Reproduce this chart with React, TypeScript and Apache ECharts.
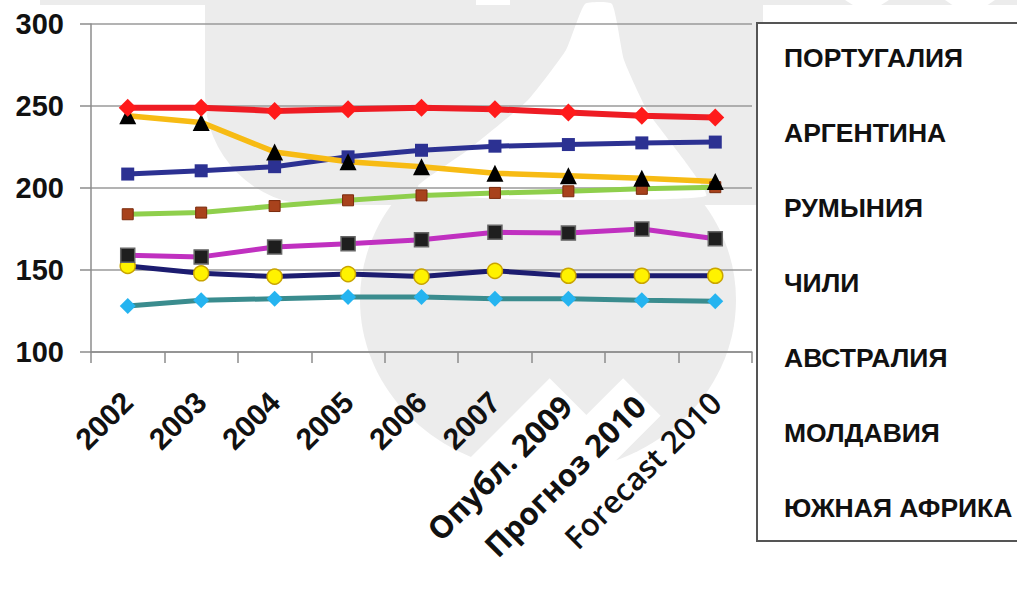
import React, { useEffect, useRef } from "react";
import * as echarts from "echarts";

const categories = ["2002", "2003", "2004", "2005", "2006", "2007", "Опубл. 2009", "Прогноз 2010", "Forecast 2010"];
const yTicks = [100, 150, 200, 250, 300];

const seriesNames = ["ПОРТУГАЛИЯ", "АРГЕНТИНА", "РУМЫНИЯ", "ЧИЛИ", "АВСТРАЛИЯ", "МОЛДАВИЯ", "ЮЖНАЯ АФРИКА"];
const portugal = [249, 249, 247, 248, 249, 248, 246, 244, 243];
const argentina = [244, 240, 222, 216, 213, 209, 207.5, 206, 204];
const romania = [208.5, 210.5, 213, 219, 223, 225.5, 226.5, 227.5, 228];
const chile = [184, 185, 189, 192.5, 195.5, 197, 198, 199.5, 200.5];
const australia = [159, 158, 164, 166, 168.5, 173, 172.5, 175, 169];
const moldova = [152.5, 148, 146, 147.5, 146, 149.5, 146.5, 146.5, 146.5];
const southAfrica = [128, 131.5, 132.5, 133.5, 133.5, 132.5, 132.5, 131.5, 131];

const GREY = "#ececec";

export default function App() {
  const ref = useRef<HTMLDivElement>(null);
  useEffect(() => {
    if (!ref.current) return;
    const chart = echarts.init(ref.current, undefined, { renderer: "svg" });
    const mk = (
      name: string,
      data: number[],
      color: string,
      width: number,
      symbol: string,
      size: number,
      fill: string,
      border: string,
      bw: number
    ) => ({
      name,
      type: "line",
      data,
      symbol,
      symbolSize: size,
      showSymbol: true,
      lineStyle: { color, width },
      itemStyle: { color: fill, borderColor: border, borderWidth: bw },
      z: 3,
    });
    const option: any = {
      animation: false,
      backgroundColor: "#fff",
      graphic: [
        { type: "rect", z: -10, silent: true, shape: { x: 40, y: 0, width: 977, height: 5 }, style: { fill: GREY } },
        { type: "rect", z: -9, silent: true, shape: { x: 476, y: 0, width: 34, height: 5 }, style: { fill: "#fff" } },
        { type: "rect", z: -10, silent: true, shape: { x: 205, y: 0, width: 558, height: 205, r: [0, 0, 0, 110] }, style: { fill: GREY } },
        { type: "ellipse", z: -10, silent: true, shape: { cx: 548, cy: 300, rx: 188, ry: 172 }, style: { fill: GREY } },
        {
          type: "polygon",
          z: -9,
          silent: true,
          shape: {
            points: [
              [585, 4], [612, 4], [624, 60], [648, 112], [684, 160], [706, 196],
              [560, 200], [440, 196], [418, 186], [468, 150], [528, 100], [566, 50],
            ],
            smooth: 0.15,
          },
          style: { fill: "#fff" },
        },
        { type: "polygon", z: -9, silent: true, shape: { points: [[845, 0], [889, 0], [867, 14]] }, style: { fill: "#fff" } },
        { type: "polygon", z: -9, silent: true, shape: { points: [[945, 0], [995, 0], [970, 17]] }, style: { fill: "#fff" } },
      ],
      grid: { left: 91, right: 265, top: 24, bottom: 241, containLabel: false },
      legend: {
        orient: "vertical",
        left: 757,
        top: 23,
        data: seriesNames,
        backgroundColor: "#fff",
        borderColor: "#555",
        borderWidth: 2,
        padding: [21, 30, 20, 21],
        itemWidth: 0,
        itemHeight: 0,
        itemGap: 48,
        icon: "rect",
        itemStyle: { opacity: 0 },
        lineStyle: { opacity: 0 },
        textStyle: {
          fontFamily: "Liberation Sans, Arial, sans-serif",
          fontWeight: "bold",
          fontSize: 26.5,
          color: "#111",
          lineHeight: 26,
        },
        selectedMode: false,
      },
      xAxis: {
        type: "category",
        data: categories,
        boundaryGap: true,
        axisLine: { lineStyle: { color: "#8c8c8c", width: 1.5 } },
        axisTick: { show: true, length: 11, lineStyle: { color: "#8c8c8c", width: 1.5 } },
        axisLabel: {
          rotate: 45,
          margin: 45,
          interval: 0,
          formatter: (v: string) =>
            /^\d{4}$/.test(v) ? `{y|${v}}` : v.startsWith("Forecast") ? `{en|${v}}` : `{ru|${v}}`,
          rich: {
            y: { fontFamily: "Liberation Sans, Arial, sans-serif", fontWeight: "bold", fontSize: 30, color: "#111" },
            ru: {
              fontFamily: "Open Sans, sans-serif",
              fontWeight: "bold",
              fontSize: 31,
              color: "#111",
              backgroundColor: "#fff",
              padding: [12, 4, 10, 30],
            },
            en: { fontFamily: "Open Sans, sans-serif", fontWeight: 600, fontSize: 31, color: "#111" },
          },
        },
      },
      yAxis: {
        type: "value",
        min: 100,
        max: 300,
        interval: 50,
        axisLine: { show: true, lineStyle: { color: "#8c8c8c", width: 1.5 } },
        axisTick: { show: true, length: 11, lineStyle: { color: "#8c8c8c", width: 1.5 } },
        splitLine: { show: true, lineStyle: { color: "#9a9a9a", width: 1.5 } },
        axisLabel: {
          margin: 27,
          fontFamily: "Liberation Sans, Arial, sans-serif",
          fontWeight: "bold",
          fontSize: 29,
          color: "#111",
          formatter: (v: number) => (yTicks.includes(v) ? String(v) : ""),
        },
      },
      series: [
        mk(seriesNames[5], moldova, "#1c1c70", 5, "circle", 15, "#fff200", "#c9a400", 1.5),
        mk(seriesNames[6], southAfrica, "#3a8c8e", 5, "diamond", 16, "#25b4f0", "#25b4f0", 0),
        mk(seriesNames[4], australia, "#c030c0", 5, "rect", 14, "#1e1e1e", "#666", 1.5),
        mk(seriesNames[3], chile, "#8fcf4c", 5, "rect", 11, "#a8421c", "#7a2a0c", 1),
        mk(seriesNames[2], romania, "#2c3192", 5, "rect", 13, "#2c3192", "#2c3192", 0),
        mk(seriesNames[1], argentina, "#f7bb14", 5.5, "triangle", 17, "#000", "#000", 0),
        mk(seriesNames[0], portugal, "#ee1c24", 6, "diamond", 18, "#ff1a1a", "#ff1a1a", 0),
      ],
    };
    chart.setOption(option);
    return () => chart.dispose();
  }, []);
  return <div ref={ref} style={{ width: 1017, height: 593, position: "absolute", left: 0, top: 0 }} />;
}
